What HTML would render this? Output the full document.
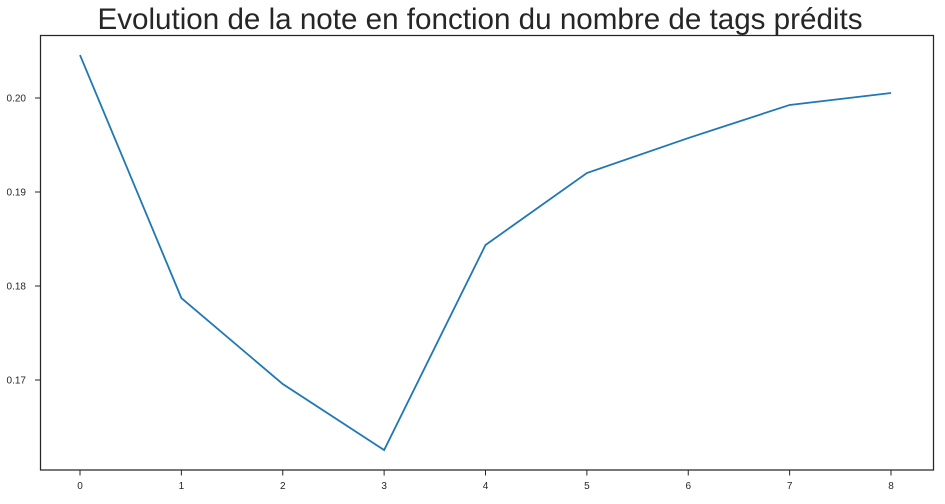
<!DOCTYPE html>
<html><head><meta charset="utf-8"><style>
body{margin:0;background:#fff;}
svg text{font-family:"Liberation Sans",sans-serif;}
</style></head><body>
<svg id="chart" width="945" height="499" xmlns="http://www.w3.org/2000/svg">
<rect width="945" height="499" fill="#fff"/>
<text x="480" y="29" text-anchor="middle" font-size="29.6" fill="#262626">Evolution de la note en fonction du nombre de tags prédits</text>
<g id="ticks"></g>
<path id="line" fill="none" stroke="#1f77b4" stroke-width="1.8"/>
<rect x="40.5" y="35.5" width="893" height="434.5" fill="none" stroke="#262626" stroke-width="1.25"/>
</svg>
<script>
const categories=[0,1,2,3,4,5,6,7,8];
const values=[0.20457,0.17872,0.16957,0.16255,0.18436,0.19202,0.19574,0.19926,0.20053];
const yTicks=[0.17,0.18,0.19,0.20];
const yTickLabels=["0.17","0.18","0.19","0.20"];
const xScale=v=>80+(891-80)*v/8;
const yScale=v=>98+(0.20-v)*9400;
const ns="http://www.w3.org/2000/svg";
const g=document.getElementById('ticks');
function el(t,a){const e=document.createElementNS(ns,t);for(const k in a)e.setAttribute(k,a[k]);g.appendChild(e);return e;}
categories.forEach(c=>{
  const x=xScale(c);
  const l=el('line',{x1:x,x2:x,y1:470,y2:475.5,stroke:'#262626','stroke-width':1});
  
  
  const t=el('text',{x:x,y:489,'text-anchor':'middle','font-size':10,fill:'#262626'});
  t.textContent=c;
  
  
});
yTicks.forEach((v,i)=>{
  const y=yScale(v);
  const l=el('line',{x1:35,x2:40.5,y1:y,y2:y,stroke:'#262626','stroke-width':1});
  
  
  const t=el('text',{x:26,y:y+3.5,'text-anchor':'end','font-size':10,fill:'#262626'});
  t.textContent=yTickLabels[i];
  
  
});
document.getElementById('line').setAttribute('d',values.map((v,i)=>(i?'L':'M')+xScale(categories[i])+','+yScale(v)).join(' '));
</script>
</body></html>
